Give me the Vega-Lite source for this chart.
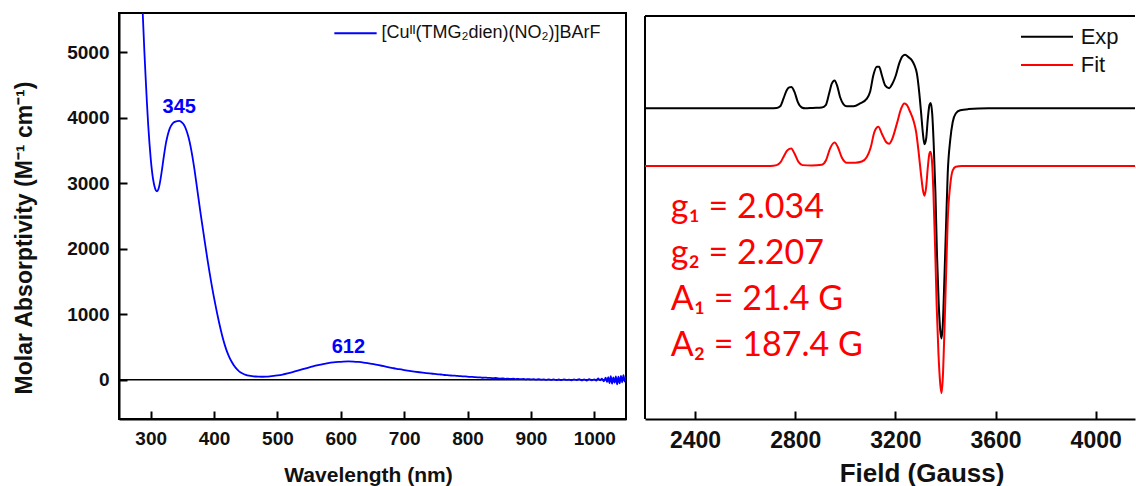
{
  "$schema": "https://vega.github.io/schema/vega-lite/v6.json",
  "padding": {"left": 12, "top": 12, "right": 0, "bottom": 0},
  "spacing": 16,
  "config": {
    "font": "Liberation Sans",
    "view": {"stroke": null}
  },
  "resolve": {"scale": {"color": "independent"}, "legend": {"color": "independent"}},
  "datasets": {
    "uvvis": [
      {"nm": 284, "eps": 6400}, {"nm": 286, "eps": 5950}, {"nm": 288, "eps": 5470}, {"nm": 290, "eps": 5020},
      {"nm": 292, "eps": 4620}, {"nm": 294, "eps": 4240}, {"nm": 296, "eps": 3900}, {"nm": 298, "eps": 3620},
      {"nm": 300, "eps": 3380}, {"nm": 302, "eps": 3190}, {"nm": 304, "eps": 3050}, {"nm": 306, "eps": 2955},
      {"nm": 308, "eps": 2895}, {"nm": 310, "eps": 2878}, {"nm": 312, "eps": 2905}, {"nm": 314, "eps": 2980},
      {"nm": 316, "eps": 3090}, {"nm": 318, "eps": 3220}, {"nm": 320, "eps": 3360}, {"nm": 322, "eps": 3490},
      {"nm": 324, "eps": 3610}, {"nm": 326, "eps": 3700}, {"nm": 328, "eps": 3775}, {"nm": 330, "eps": 3835},
      {"nm": 333, "eps": 3890}, {"nm": 336, "eps": 3925}, {"nm": 339, "eps": 3942}, {"nm": 342, "eps": 3950},
      {"nm": 345, "eps": 3952}, {"nm": 348, "eps": 3940}, {"nm": 351, "eps": 3912}, {"nm": 354, "eps": 3865},
      {"nm": 357, "eps": 3790}, {"nm": 360, "eps": 3690}, {"nm": 363, "eps": 3560}, {"nm": 366, "eps": 3400},
      {"nm": 369, "eps": 3215}, {"nm": 372, "eps": 3010}, {"nm": 375, "eps": 2800}, {"nm": 378, "eps": 2590},
      {"nm": 381, "eps": 2390}, {"nm": 384, "eps": 2195}, {"nm": 387, "eps": 2000}, {"nm": 390, "eps": 1810},
      {"nm": 393, "eps": 1630}, {"nm": 396, "eps": 1460}, {"nm": 399, "eps": 1300}, {"nm": 402, "eps": 1150},
      {"nm": 405, "eps": 1005}, {"nm": 408, "eps": 870}, {"nm": 411, "eps": 745}, {"nm": 414, "eps": 630},
      {"nm": 417, "eps": 528}, {"nm": 420, "eps": 440}, {"nm": 424, "eps": 345}, {"nm": 428, "eps": 270},
      {"nm": 432, "eps": 208}, {"nm": 436, "eps": 160}, {"nm": 440, "eps": 124}, {"nm": 445, "eps": 95},
      {"nm": 450, "eps": 75}, {"nm": 455, "eps": 62}, {"nm": 460, "eps": 54}, {"nm": 465, "eps": 49},
      {"nm": 470, "eps": 46}, {"nm": 476, "eps": 45}, {"nm": 482, "eps": 47}, {"nm": 488, "eps": 51},
      {"nm": 494, "eps": 57}, {"nm": 500, "eps": 65}, {"nm": 508, "eps": 78}, {"nm": 516, "eps": 95},
      {"nm": 524, "eps": 115}, {"nm": 532, "eps": 137}, {"nm": 540, "eps": 160}, {"nm": 548, "eps": 182},
      {"nm": 556, "eps": 203}, {"nm": 564, "eps": 222}, {"nm": 572, "eps": 239}, {"nm": 580, "eps": 253},
      {"nm": 588, "eps": 264}, {"nm": 596, "eps": 272}, {"nm": 604, "eps": 277}, {"nm": 612, "eps": 279},
      {"nm": 620, "eps": 277}, {"nm": 628, "eps": 271}, {"nm": 636, "eps": 262}, {"nm": 644, "eps": 250},
      {"nm": 652, "eps": 237}, {"nm": 660, "eps": 222}, {"nm": 668, "eps": 206}, {"nm": 676, "eps": 190},
      {"nm": 684, "eps": 175}, {"nm": 692, "eps": 160}, {"nm": 700, "eps": 147}, {"nm": 708, "eps": 135},
      {"nm": 716, "eps": 124}, {"nm": 724, "eps": 114}, {"nm": 732, "eps": 105}, {"nm": 740, "eps": 96},
      {"nm": 748, "eps": 88}, {"nm": 756, "eps": 80}, {"nm": 760, "eps": 78}, {"nm": 764, "eps": 72},
      {"nm": 768, "eps": 70}, {"nm": 772, "eps": 66}, {"nm": 776, "eps": 62}, {"nm": 780, "eps": 63},
      {"nm": 784, "eps": 58}, {"nm": 788, "eps": 55}, {"nm": 792, "eps": 52}, {"nm": 796, "eps": 50},
      {"nm": 800, "eps": 47}, {"nm": 804, "eps": 42}, {"nm": 808, "eps": 44}, {"nm": 812, "eps": 38},
      {"nm": 816, "eps": 36}, {"nm": 820, "eps": 37}, {"nm": 824, "eps": 30}, {"nm": 828, "eps": 33},
      {"nm": 832, "eps": 27}, {"nm": 836, "eps": 28}, {"nm": 840, "eps": 22}, {"nm": 844, "eps": 26},
      {"nm": 848, "eps": 20}, {"nm": 852, "eps": 18}, {"nm": 856, "eps": 21}, {"nm": 860, "eps": 14},
      {"nm": 864, "eps": 17}, {"nm": 868, "eps": 12}, {"nm": 872, "eps": 15}, {"nm": 876, "eps": 9},
      {"nm": 880, "eps": 13}, {"nm": 884, "eps": 8}, {"nm": 888, "eps": 11}, {"nm": 892, "eps": 5},
      {"nm": 896, "eps": 10}, {"nm": 900, "eps": 4}, {"nm": 904, "eps": 9}, {"nm": 908, "eps": 2},
      {"nm": 912, "eps": 7}, {"nm": 916, "eps": 0}, {"nm": 920, "eps": 6}, {"nm": 924, "eps": -3},
      {"nm": 928, "eps": 5}, {"nm": 932, "eps": -2}, {"nm": 936, "eps": 4}, {"nm": 940, "eps": -5},
      {"nm": 944, "eps": 3}, {"nm": 948, "eps": -6}, {"nm": 952, "eps": 6}, {"nm": 956, "eps": -4},
      {"nm": 960, "eps": 2}, {"nm": 964, "eps": -8}, {"nm": 968, "eps": 5}, {"nm": 972, "eps": -6},
      {"nm": 976, "eps": 8}, {"nm": 980, "eps": -10}, {"nm": 984, "eps": 4}, {"nm": 988, "eps": -12},
      {"nm": 992, "eps": 10}, {"nm": 996, "eps": -8}, {"nm": 1000, "eps": 6}, {"nm": 1003, "eps": -15},
      {"nm": 1006, "eps": 20}, {"nm": 1009, "eps": -10}, {"nm": 1012, "eps": 18}, {"nm": 1015, "eps": -25},
      {"nm": 1018, "eps": 30}, {"nm": 1020, "eps": -35}, {"nm": 1022, "eps": 40}, {"nm": 1024, "eps": -50},
      {"nm": 1026, "eps": 55}, {"nm": 1028, "eps": -60}, {"nm": 1030, "eps": 35}, {"nm": 1032, "eps": -45},
      {"nm": 1034, "eps": 50}, {"nm": 1036, "eps": -70}, {"nm": 1038, "eps": 45}, {"nm": 1040, "eps": -55},
      {"nm": 1042, "eps": 60}, {"nm": 1044, "eps": -40}, {"nm": 1046, "eps": 70}, {"nm": 1048, "eps": -30},
      {"nm": 1050, "eps": 40}
    ],
    "uvpeaks": [
      {"nm": 345, "eps": 3952, "label": "345"},
      {"nm": 612, "eps": 279, "label": "612"}
    ],
    "epr": [
      {"G": 2200, "s": 77.1, "series": "Exp"}, {"G": 2400, "s": 77.1, "series": "Exp"}, {"G": 2600, "s": 77.1, "series": "Exp"},
      {"G": 2700, "s": 77.1, "series": "Exp"}, {"G": 2726, "s": 77.2, "series": "Exp"}, {"G": 2740, "s": 77.6, "series": "Exp"},
      {"G": 2753, "s": 79.5, "series": "Exp"}, {"G": 2766, "s": 81.6, "series": "Exp"}, {"G": 2776, "s": 82.3, "series": "Exp"},
      {"G": 2784, "s": 82.4, "series": "Exp"}, {"G": 2797, "s": 81.2, "series": "Exp"}, {"G": 2810, "s": 78.7, "series": "Exp"},
      {"G": 2826, "s": 77.3, "series": "Exp"}, {"G": 2840, "s": 77.1, "series": "Exp"}, {"G": 2870, "s": 77.2, "series": "Exp"},
      {"G": 2906, "s": 77.3, "series": "Exp"}, {"G": 2922, "s": 77.9, "series": "Exp"}, {"G": 2935, "s": 80.7, "series": "Exp"},
      {"G": 2946, "s": 83.2, "series": "Exp"}, {"G": 2957, "s": 84.0, "series": "Exp"}, {"G": 2967, "s": 82.8, "series": "Exp"},
      {"G": 2979, "s": 79.9, "series": "Exp"}, {"G": 2993, "s": 78.1, "series": "Exp"}, {"G": 3006, "s": 77.6, "series": "Exp"},
      {"G": 3033, "s": 77.6, "series": "Exp"}, {"G": 3059, "s": 78.3, "series": "Exp"}, {"G": 3086, "s": 79.5, "series": "Exp"},
      {"G": 3099, "s": 81.2, "series": "Exp"}, {"G": 3112, "s": 85.3, "series": "Exp"}, {"G": 3126, "s": 87.4, "series": "Exp"},
      {"G": 3135, "s": 87.4, "series": "Exp"}, {"G": 3146, "s": 85.3, "series": "Exp"}, {"G": 3159, "s": 82.8, "series": "Exp"},
      {"G": 3175, "s": 82.1, "series": "Exp"}, {"G": 3188, "s": 83.2, "series": "Exp"}, {"G": 3202, "s": 85.3, "series": "Exp"},
      {"G": 3215, "s": 88.2, "series": "Exp"}, {"G": 3228, "s": 90.0, "series": "Exp"}, {"G": 3239, "s": 90.4, "series": "Exp"},
      {"G": 3252, "s": 89.8, "series": "Exp"}, {"G": 3266, "s": 89.0, "series": "Exp"}, {"G": 3276, "s": 87.8, "series": "Exp"},
      {"G": 3286, "s": 85.7, "series": "Exp"}, {"G": 3295, "s": 81.2, "series": "Exp"}, {"G": 3303, "s": 75.8, "series": "Exp"},
      {"G": 3310, "s": 70.8, "series": "Exp"}, {"G": 3316, "s": 68.2, "series": "Exp"}, {"G": 3323, "s": 69.6, "series": "Exp"},
      {"G": 3329, "s": 74.1, "series": "Exp"}, {"G": 3336, "s": 77.9, "series": "Exp"}, {"G": 3341, "s": 78.4, "series": "Exp"},
      {"G": 3347, "s": 75.8, "series": "Exp"}, {"G": 3353, "s": 68.3, "series": "Exp"}, {"G": 3360, "s": 56.0, "series": "Exp"},
      {"G": 3366, "s": 41.1, "series": "Exp"}, {"G": 3373, "s": 28.7, "series": "Exp"}, {"G": 3379, "s": 22.1, "series": "Exp"},
      {"G": 3384, "s": 20.0, "series": "Exp"}, {"G": 3389, "s": 22.9, "series": "Exp"}, {"G": 3396, "s": 35.3, "series": "Exp"},
      {"G": 3403, "s": 49.3, "series": "Exp"}, {"G": 3409, "s": 60.9, "series": "Exp"}, {"G": 3419, "s": 69.2, "series": "Exp"},
      {"G": 3429, "s": 73.7, "series": "Exp"}, {"G": 3441, "s": 75.8, "series": "Exp"}, {"G": 3459, "s": 76.6, "series": "Exp"},
      {"G": 3492, "s": 76.9, "series": "Exp"}, {"G": 3572, "s": 77.1, "series": "Exp"}, {"G": 3800, "s": 77.1, "series": "Exp"},
      {"G": 4000, "s": 77.1, "series": "Exp"}, {"G": 4200, "s": 77.1, "series": "Exp"},
      {"G": 2200, "s": 62.8, "series": "Fit"}, {"G": 2700, "s": 62.8, "series": "Fit"}, {"G": 2726, "s": 63.0, "series": "Fit"},
      {"G": 2740, "s": 63.6, "series": "Fit"}, {"G": 2753, "s": 65.0, "series": "Fit"}, {"G": 2769, "s": 66.7, "series": "Fit"},
      {"G": 2784, "s": 67.1, "series": "Fit"}, {"G": 2797, "s": 65.9, "series": "Fit"}, {"G": 2813, "s": 63.8, "series": "Fit"},
      {"G": 2829, "s": 63.0, "series": "Fit"}, {"G": 2866, "s": 62.9, "series": "Fit"}, {"G": 2906, "s": 63.1, "series": "Fit"},
      {"G": 2923, "s": 64.2, "series": "Fit"}, {"G": 2939, "s": 67.1, "series": "Fit"}, {"G": 2957, "s": 68.6, "series": "Fit"},
      {"G": 2970, "s": 67.5, "series": "Fit"}, {"G": 2986, "s": 64.9, "series": "Fit"}, {"G": 3006, "s": 63.6, "series": "Fit"},
      {"G": 3039, "s": 63.6, "series": "Fit"}, {"G": 3066, "s": 63.9, "series": "Fit"}, {"G": 3086, "s": 65.0, "series": "Fit"},
      {"G": 3102, "s": 67.5, "series": "Fit"}, {"G": 3116, "s": 71.2, "series": "Fit"}, {"G": 3132, "s": 72.5, "series": "Fit"},
      {"G": 3146, "s": 70.8, "series": "Fit"}, {"G": 3162, "s": 68.8, "series": "Fit"}, {"G": 3175, "s": 68.3, "series": "Fit"},
      {"G": 3188, "s": 69.6, "series": "Fit"}, {"G": 3206, "s": 73.3, "series": "Fit"}, {"G": 3223, "s": 77.0, "series": "Fit"},
      {"G": 3235, "s": 78.3, "series": "Fit"}, {"G": 3245, "s": 78.0, "series": "Fit"}, {"G": 3259, "s": 76.2, "series": "Fit"},
      {"G": 3272, "s": 74.1, "series": "Fit"}, {"G": 3283, "s": 71.2, "series": "Fit"}, {"G": 3292, "s": 66.7, "series": "Fit"},
      {"G": 3302, "s": 60.9, "series": "Fit"}, {"G": 3310, "s": 56.8, "series": "Fit"}, {"G": 3316, "s": 55.4, "series": "Fit"},
      {"G": 3323, "s": 57.6, "series": "Fit"}, {"G": 3329, "s": 62.1, "series": "Fit"}, {"G": 3336, "s": 65.9, "series": "Fit"},
      {"G": 3340, "s": 66.3, "series": "Fit"}, {"G": 3346, "s": 64.2, "series": "Fit"}, {"G": 3352, "s": 56.0, "series": "Fit"},
      {"G": 3359, "s": 41.9, "series": "Fit"}, {"G": 3365, "s": 27.9, "series": "Fit"}, {"G": 3372, "s": 16.3, "series": "Fit"},
      {"G": 3379, "s": 8.8, "series": "Fit"}, {"G": 3384, "s": 6.4, "series": "Fit"}, {"G": 3389, "s": 9.7, "series": "Fit"},
      {"G": 3396, "s": 22.1, "series": "Fit"}, {"G": 3403, "s": 36.9, "series": "Fit"}, {"G": 3409, "s": 49.3, "series": "Fit"},
      {"G": 3419, "s": 58.0, "series": "Fit"}, {"G": 3429, "s": 61.7, "series": "Fit"}, {"G": 3441, "s": 62.6, "series": "Fit"},
      {"G": 3465, "s": 62.8, "series": "Fit"}, {"G": 4200, "s": 62.8, "series": "Fit"}
    ],
    "eprParams": [
      {"G": 2303, "s": 49.8, "text": "g₁ = 2.034"},
      {"G": 2303, "s": 38.4, "text": "g₂ = 2.207"},
      {"G": 2303, "s": 27.0, "text": "A₁ = 21.4 G"},
      {"G": 2303, "s": 15.6, "text": "A₂ = 187.4 G"}
    ]
  },
  "hconcat": [
    {
      "width": 507,
      "height": 406,
      "view": {"stroke": "black", "strokeWidth": 2},
      "layer": [
        {
          "data": {"values": [{}]},
          "mark": {"type": "rule", "color": "black", "strokeWidth": 1.6},
          "encoding": {"y": {"datum": 0, "type": "quantitative"}}
        },
        {
          "data": {"name": "uvvis"},
          "mark": {"type": "line", "clip": true, "strokeWidth": 1.8, "interpolate": "monotone"},
          "encoding": {
            "x": {
              "field": "nm", "type": "quantitative",
              "scale": {"domain": [250, 1050], "nice": false, "zero": false},
              "axis": {
                "title": "Wavelength (nm)", "values": [300, 400, 500, 600, 700, 800, 900, 1000], "format": "d",
                "grid": false, "domainColor": "black", "domainWidth": 2,
                "tickColor": "black", "tickWidth": 2, "tickSize": -8, "labelPadding": 18,
                "labelFont": "Liberation Sans", "labelFontSize": 19, "labelFontWeight": "bold", "labelColor": "#111111",
                "labelOverlap": false, "labelFlush": false,
                "titleFont": "Liberation Sans", "titleFontSize": 21, "titleFontWeight": "bold", "titleColor": "#111111",
                "titleX": 249, "titleY": 62.5, "titleBaseline": "alphabetic", "titleAlign": "center"
              }
            },
            "y": {
              "field": "eps", "type": "quantitative",
              "scale": {"domain": [-600, 5600], "nice": false, "zero": false},
              "axis": {
                "title": "Molar Absorptivity (M⁻¹ cm⁻¹)", "values": [0, 1000, 2000, 3000, 4000, 5000], "format": "d",
                "grid": false, "domainColor": "black", "domainWidth": 2,
                "tickColor": "black", "tickWidth": 2, "tickSize": -8, "labelPadding": 18,
                "labelFont": "Liberation Sans", "labelFontSize": 19, "labelFontWeight": "bold", "labelColor": "#111111",
                "labelOverlap": false,
                "titleFont": "Liberation Sans", "titleFontSize": 23, "titleFontWeight": "bold", "titleColor": "#111111",
                "titleX": -94.5, "titleY": 224.5, "titleBaseline": "middle", "titleAlign": "center", "titleAngle": -90
              }
            },
            "color": {
              "datum": "[Cuᴵᴵ(TMG₂dien)(NO₂)]BArF", "type": "nominal",
              "scale": {"range": ["#0000ff"]},
              "legend": {
                "orient": "none", "legendX": 227.5, "legendY": 11.3, "title": null, "padding": 0,
                "symbolType": "M-4,0H4", "symbolSize": 112, "symbolStrokeWidth": 2,
                "labelFont": "Liberation Sans", "labelFontSize": 18, "labelColor": "#111111",
                "labelOffset": 17, "labelLimit": 500
              }
            }
          }
        },
        {
          "data": {"name": "uvpeaks"},
          "mark": {"type": "text", "color": "#0000ff", "font": "Liberation Sans", "fontSize": 20, "fontWeight": "bold", "baseline": "alphabetic", "align": "center", "dy": -8},
          "encoding": {
            "x": {"field": "nm", "type": "quantitative"},
            "y": {"field": "eps", "type": "quantitative"},
            "text": {"field": "label"}
          }
        }
      ]
    },
    {
      "width": 490,
      "height": 406,
      "layer": [
        {
          "data": {"values": [{}]},
          "mark": {"type": "rule", "color": "black", "strokeWidth": 2},
          "encoding": {"y": {"datum": 100, "type": "quantitative", "axis": null}}
        },
        {
          "data": {"values": [{}]},
          "mark": {"type": "rule", "color": "black", "strokeWidth": 2},
          "encoding": {
            "x": {"datum": 2200, "type": "quantitative"},
            "y": {"datum": 0, "type": "quantitative", "axis": null},
            "y2": {"datum": 100}
          }
        },
        {
          "data": {"name": "epr"},
          "mark": {"type": "line", "clip": true, "strokeWidth": 2, "interpolate": "monotone"},
          "encoding": {
            "x": {
              "field": "G", "type": "quantitative",
              "scale": {"domain": [2200, 4157], "nice": false, "zero": false},
              "axis": {
                "title": "Field (Gauss)", "values": [2400, 2800, 3200, 3600, 4000], "format": "d",
                "grid": false, "domainColor": "black", "domainWidth": 2,
                "tickColor": "black", "tickWidth": 2, "tickSize": -8, "labelPadding": 18,
                "labelFont": "Liberation Sans", "labelFontSize": 23, "labelFontWeight": "bold", "labelColor": "#111111",
                "labelOverlap": false, "labelFlush": false,
                "titleFont": "Liberation Sans", "titleFontSize": 26, "titleFontWeight": "bold", "titleColor": "#111111",
                "titleX": 276.5, "titleY": 62, "titleBaseline": "alphabetic", "titleAlign": "center"
              }
            },
            "y": {
              "field": "s", "type": "quantitative",
              "scale": {"domain": [0, 100.75], "nice": false, "zero": false},
              "axis": null
            },
            "color": {
              "field": "series", "type": "nominal",
              "scale": {"domain": ["Exp", "Fit"], "range": ["#000000", "#ff0000"]},
              "legend": {
                "orient": "none", "legendX": 391, "legendY": 12.7, "title": null, "padding": 0,
                "symbolType": "M-4,0H4", "symbolSize": 169, "symbolStrokeWidth": 2, "rowPadding": 6.3,
                "labelFont": "Liberation Sans", "labelFontSize": 22, "labelColor": "#111111",
                "labelOffset": 22.7
              }
            }
          }
        },
        {
          "data": {"name": "eprParams"},
          "mark": {"type": "text", "color": "#ff0000", "font": "Lato", "fontSize": 34, "align": "left", "baseline": "alphabetic"},
          "encoding": {
            "x": {"field": "G", "type": "quantitative"},
            "y": {"field": "s", "type": "quantitative", "axis": null},
            "text": {"field": "text"}
          }
        }
      ]
    }
  ]
}
